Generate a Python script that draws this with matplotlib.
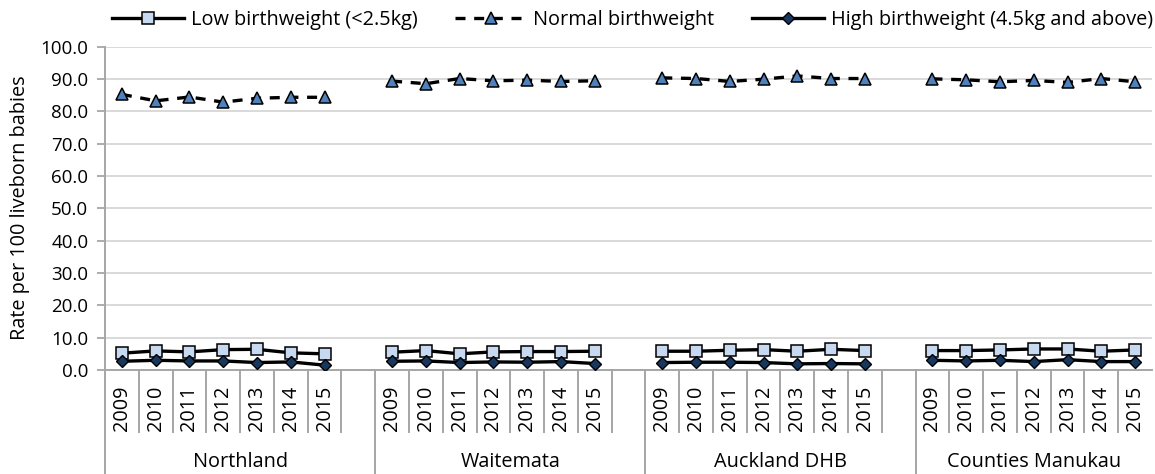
import numpy as np
import matplotlib
matplotlib.use("Agg")
import matplotlib.pyplot as plt
from matplotlib.lines import Line2D
from matplotlib.transforms import blended_transform_factory

plt.rcParams['font.family'] = ['Open Sans', 'DejaVu Sans']

groups = ["Northland", "Waitemata", "Auckland DHB", "Counties Manukau"]
years = ["2009", "2010", "2011", "2012", "2013", "2014", "2015"]

low_northland = [5.2, 5.9, 5.6, 6.3, 6.4, 5.3, 5.0]
low_waitemata = [5.5, 6.0, 5.0, 5.6, 5.7, 5.7, 5.8]
low_auckland = [5.8, 5.8, 6.1, 6.3, 5.8, 6.4, 6.0]
low_counties = [6.0, 6.0, 6.2, 6.5, 6.5, 5.8, 6.2]

normal_northland = [85.2, 83.2, 84.4, 82.8, 84.0, 84.3, 84.3]
normal_waitemata = [89.3, 88.5, 90.1, 89.4, 89.6, 89.2, 89.4]
normal_auckland = [90.3, 90.1, 89.2, 89.9, 90.9, 90.1, 90.1]
normal_counties = [90.0, 89.7, 89.1, 89.5, 88.9, 90.1, 89.1]

high_northland = [2.7, 3.0, 2.8, 2.8, 2.3, 2.5, 1.5]
high_waitemata = [2.7, 2.8, 2.3, 2.5, 2.4, 2.6, 2.0]
high_auckland = [2.3, 2.4, 2.4, 2.3, 1.9, 2.0, 1.9]
high_counties = [3.0, 2.8, 3.0, 2.6, 3.2, 2.6, 2.6]

low = [low_northland, low_waitemata, low_auckland, low_counties]
normal = [normal_northland, normal_waitemata, normal_auckland, normal_counties]
high = [high_northland, high_waitemata, high_auckland, high_counties]

series_labels = ["Low birthweight (<2.5kg)", "Normal birthweight",
                 "High birthweight (4.5kg and above)"]
yticks = np.arange(0, 101, 10)

FS = 14.3
FS_Y = 13.5

W, H = 1155, 474
fig = plt.figure(figsize=(W / 100, H / 100), dpi=100)
ax_left, ax_right, ax_top, ax_bottom = 105, 1152, 46.5, 370
ax = fig.add_axes([ax_left / W, 1 - ax_bottom / H, (ax_right - ax_left) / W,
                   (ax_bottom - ax_top) / H])

nyear = len(years)
slot = nyear + 1
n_slots = len(groups) * slot - 1


def flat(series):
    xs, ys = [], []
    for g, vals in enumerate(series):
        for i, v in enumerate(vals):
            xs.append(g * slot + i)
            ys.append(v)
        if g < len(groups) - 1:
            xs.append(g * slot + nyear)
            ys.append(np.nan)
    return np.array(xs), np.array(ys)


grid_c = "#D9D9D9"
axis_c = "#A6A6A6"
for t in yticks[1:]:
    ax.axhline(t, color=grid_c, lw=1.4, zorder=0)

lw = 2.4
low_style = dict(color="black", lw=lw, marker="s", ms=8.5, mfc="#C6D9F1",
                 mec="black", mew=1.1)
normal_style = dict(color="black", lw=lw, ls=(0, (3.0, 2.6)), marker="^",
                    ms=9, mfc="#4F81BD", mec="black", mew=1.1)
high_style = dict(color="black", lw=lw, marker="D", ms=6.5, mfc="#17375E",
                  mec="black", mew=1.0)

x, y = flat(low)
ax.plot(x, y, zorder=3, **low_style)
x, y = flat(normal)
ax.plot(x, y, zorder=3, **normal_style)
x, y = flat(high)
ax.plot(x, y, zorder=4, **high_style)

ax.set_xlim(-0.5, n_slots - 0.5)
ax.set_ylim(0, 100)
ax.set_yticks(yticks)
ax.set_yticklabels([f"{t:.1f}" for t in yticks], fontsize=FS_Y)
ax.tick_params(axis="y", length=6, width=1.3, color=axis_c, pad=6)
ax.set_xticks([])
for s in ["top", "right"]:
    ax.spines[s].set_visible(False)
for s in ["left", "bottom"]:
    ax.spines[s].set_color(axis_c)
    ax.spines[s].set_linewidth(1.4)

fig.text(20 / W, 1 - 208 / H, "Rate per 100 liveborn babies", rotation=90,
         ha="center", va="center", fontsize=FS)

# multi-level category axis
tr = blended_transform_factory(ax.transData, fig.transFigure)
def fy(px):
    return 1 - px / H

year_bottom = 432
for k in range(1, n_slots):
    b = k - 0.5
    is_group = (k % slot == 0)
    yb = H if is_group else year_bottom
    ax.add_line(Line2D([b, b], [fy(ax_bottom), fy(yb)], transform=tr,
                       color=axis_c, lw=1.4, clip_on=False))
ax.add_line(Line2D([-0.5, -0.5], [fy(ax_bottom), fy(H)], transform=tr,
                   color=axis_c, lw=1.4, clip_on=False))

for g, name in enumerate(groups):
    for i, yr in enumerate(years):
        ax.text(g * slot + i, fy(408), yr, transform=tr, rotation=90,
                ha="center", va="center", fontsize=FS)
    start = g * slot - 0.5
    end = min(g * slot + nyear + 0.5, n_slots - 0.5)
    ax.text((start + end) / 2, fy(462), name, transform=tr, ha="center",
            va="center", fontsize=FS)

# legend
handles = [Line2D([], [], **low_style), Line2D([], [], **normal_style),
           Line2D([], [], **high_style)]
fig.legend(handles, series_labels, loc="center", ncol=3,
           bbox_to_anchor=(0.5 + 55 / W, 1 - 20 / H), frameon=False,
           fontsize=FS, handlelength=3.6, handletextpad=0.35,
           columnspacing=1.9, borderaxespad=0, borderpad=0)

fig.savefig("out.png", dpi=100)
